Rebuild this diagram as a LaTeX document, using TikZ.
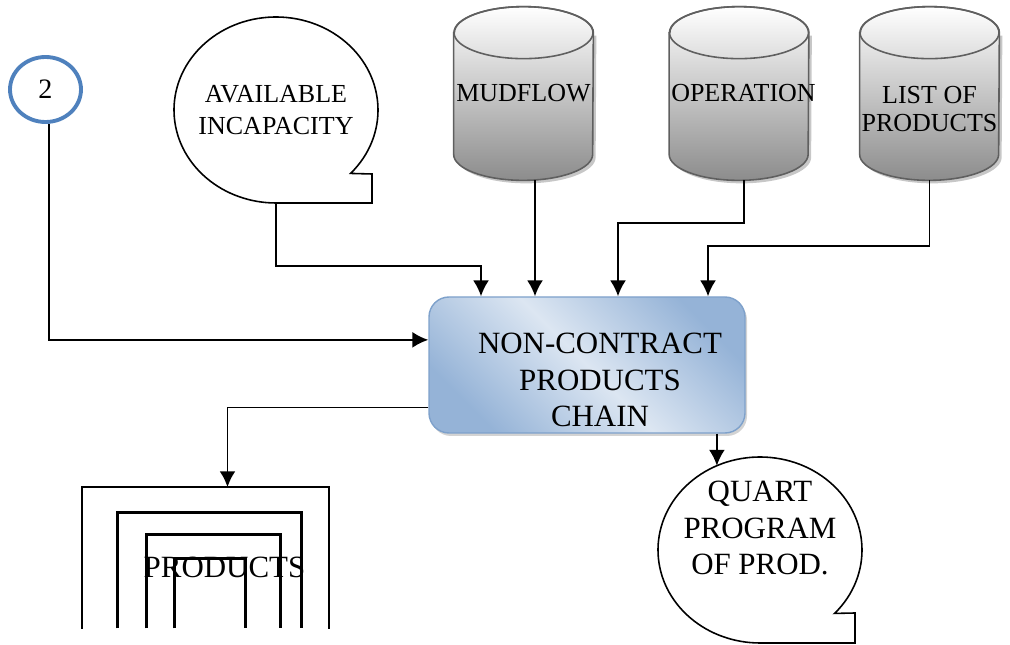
\documentclass[tikz,border=0pt]{standalone}
\usepackage{fontspec}
\setmainfont{Liberation Serif}
\usetikzlibrary{shapes.geometric,arrows.meta,shadows}

\definecolor{ringblue}{HTML}{4F81BD}
\definecolor{boxdark}{HTML}{95B3D7}
\definecolor{boxlight}{HTML}{DCE6F2}
\definecolor{boxline}{HTML}{7EA1CB}
\definecolor{dbline}{HTML}{5F5F5F}

\tikzset{
  flow/.style={-{Latex[length=9pt,width=9pt]}, line width=1.1pt},
  outline/.style={line width=0.9pt},
  frame/.style={line width=1.15pt},
  smalltext/.style={font=\fontsize{14.8}{18}\selectfont, align=center},
  bigtext/.style={font=\fontsize{17.6}{21}\selectfont, align=center},
  dbnode/.style={rectangle, minimum width=2.78cm, minimum height=3.46cm, inner sep=0pt},
  dbbody/.style={draw=dbline, line width=0.9pt, top color=white, bottom color=black!45},
  dbshadow/.style={fill=black!22},
  bubble/.style={ellipse, minimum width=4.08cm, minimum height=3.72cm, inner sep=0pt},
  chainbox/.style={rectangle, rounded corners=0.4cm, draw=boxline, line width=0.8pt,
    minimum width=6.32cm, minimum height=2.72cm,
    left color=boxdark, right color=boxdark, middle color=boxlight, shading angle=135,
    drop shadow={shadow xshift=0.04cm, shadow yshift=-0.06cm, opacity=0.35}}
}

\begin{document}
\begin{tikzpicture}
        \useasboundingbox (0,0) rectangle (20.2,12.9);
        \node[draw=ringblue, line width=2.2pt, ellipse, minimum width=1.42cm,
          minimum height=1.3cm, inner sep=0pt, font=\fontsize{16}{18}\selectfont] (two) at (0.91,11.11) {2};
        \node[bubble, smalltext] (avail) at (5.52,10.7) {AVAILABLE\\INCAPACITY};
        \node[dbnode] (mud)  at (10.47,11.03) {};
        \node[dbnode] (op)   at (14.78,11.03) {};
        \node[dbnode] (list) at (18.59,11.03) {};
        \node[chainbox] (chain) at (11.74,5.6) {};
        \node[bigtext] (chaintext) at (12.0,5.3) {NON-CONTRACT\\PRODUCTS\\CHAIN};
        \node[bubble] (quart) at (15.2,1.9) {};
        \node[bigtext] (quarttext) at (15.2,2.34) {QUART\\PROGRAM\\OF PROD.};
        \node[minimum width=4.92cm, minimum height=2.82cm, inner sep=0pt] (prod) at (4.11,1.74) {};
        \coordinate (qtop) at ([shift={(115:2.04 and 1.86)}]quart.center);
        % data stores
        \foreach \db in {mud,op,list}{
          \fill[dbshadow] ([shift={(0.06,-0.58)}]\db.north west) -- ([shift={(0.06,0.46)}]\db.south west)
            arc[start angle=180, end angle=360, x radius=1.39cm, y radius=0.52cm]
            -- ([shift={(0.06,-0.58)}]\db.north east) -- cycle;
          \path[dbbody] ([yshift=-0.52cm]\db.north west) -- ([yshift=0.52cm]\db.south west)
            arc[start angle=180, end angle=360, x radius=1.39cm, y radius=0.52cm]
            -- ([yshift=-0.52cm]\db.north east)
            arc[start angle=0, end angle=180, x radius=1.39cm, y radius=0.52cm] -- cycle;
          \draw[draw=dbline, line width=0.9pt] ([yshift=-0.52cm]\db.north) ellipse[x radius=1.39cm, y radius=0.52cm];
        }
        \node[smalltext] (mudtext) at (mud) {MUDFLOW};
        \node[smalltext] (optext) at ([xshift=0.09cm]op.center) {OPERATION};
        \node[smalltext, font=\fontsize{14.8}{15.8}\selectfont] (listtext) at ([yshift=-0.31cm]list.center) {LIST OF\\PRODUCTS};
        % callout outlines
        \draw[outline] ([shift={(-43:2.04 and 1.86)}]avail.center)
          arc[start angle=-43, end angle=270, x radius=2.04cm, y radius=1.86cm]
          -- ++(1.92,0) -- ++(0,0.58) -- cycle;
        \draw[outline] ([shift={(-43:2.04 and 1.86)}]quart.center)
          arc[start angle=-43, end angle=270, x radius=2.04cm, y radius=1.86cm]
          -- ++(1.9,0) -- ++(0,0.6) -- cycle;
        % nested product frames
        \draw[frame] (prod.south west) |- (prod.north east) -- (prod.south east);
        \draw[frame] (2.35,0.33) |- (6.03,2.65) -- (6.03,0.33);
        \draw[frame] (2.93,0.33) |- (5.61,2.21) -- (5.61,0.33);
        \draw[frame] (3.49,0.33) |- (4.91,1.73) -- (4.91,0.33);
        \node[bigtext] (prodtext) at (4.49,1.56) {PRODUCTS};
        % inputs
        \draw[flow] ([xshift=0.07cm]two.south) |- (chain.171);
        \draw[flow] (avail.south) -- ++(0,-1.26) -| ([xshift=-2.12cm]chain.north);
        \draw[flow] ([xshift=-1.04cm]chain.north |- mud.south) -- ([xshift=-1.04cm]chain.north);
        \draw[flow] ([xshift=0.1cm]op.south) -- ++(0,-0.86) -| ([xshift=0.62cm]chain.north);
        \draw[flow] (list.south) -- ++(0,-1.32) -| ([xshift=2.42cm]chain.north);
        % outputs
        \draw[flow] (chain.195) -| ([xshift=0.44cm]prod.north);
        \draw[flow] (chain.south -| qtop) -- (qtop);
      \end{tikzpicture}
\end{document}
